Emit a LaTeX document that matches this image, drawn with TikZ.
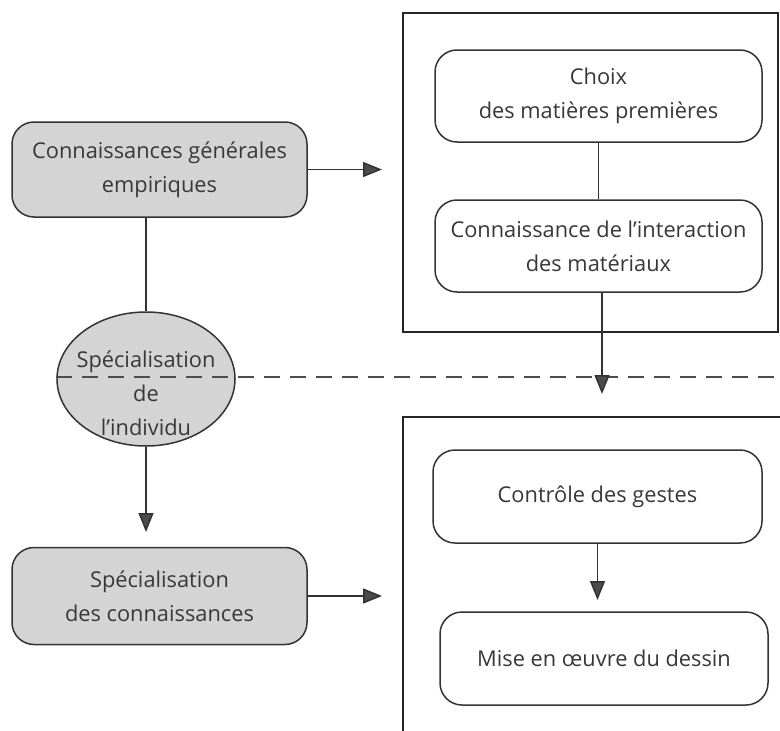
\documentclass[tikz,border=0pt]{standalone}
\usepackage{fontspec}
\setmainfont{Open Sans}
\usetikzlibrary{arrows.meta,shapes.geometric}
\begin{document}
\begin{tikzpicture}[x=1pt,y=-1pt,
  every node/.style={font=\fontsize{21.8}{34}\selectfont, text=black!78, align=center, inner sep=0pt},
  graybox/.style={draw=black!80, line width=1.5pt, rounded corners=22pt, fill=black!17, minimum width=295pt, minimum height=95pt},
  whitebox/.style={draw=black!80, line width=1.5pt, rounded corners=22pt, fill=white, minimum width=327pt, minimum height=92pt},
  conn/.style={draw=black!80, line width=1.5pt},
  arr/.style={conn, -{Triangle[length=19pt,width=15pt,fill=black!70]}},
  frame/.style={draw=black!85, line width=1.6pt}
]
\useasboundingbox (0,0) rectangle (780,731);
% frames
\draw[frame] (403,13) rectangle (778,332);
\draw[frame] (403,731) -- (403,417) -- (780,417);
% left column
\node[graybox] (b1) at (159.5,169.5) {Connaissances générales\\empiriques};
\node[ellipse, draw=black!80, line width=1.5pt, fill=black!17, minimum width=178pt, minimum height=134pt] (el) at (146,379) {};
\node (elt) at (146,393) {Spécialisation\\de\\l'individu};
\node[graybox, minimum height=97pt] (b3) at (159.5,596) {Spécialisation\\des connaissances};
% right column
\node[whitebox] (c1) at (598.5,96) {Choix\\des matières premières};
\node[whitebox] (c2) at (598.5,246) {Connaissance de l'interaction\\des matériaux};
\node[whitebox, minimum width=329pt, minimum height=93pt] (c3) at (597.5,496.5) {Contrôle des gestes};
\node[whitebox, minimum width=328pt, minimum height=93pt] (c4) at (604,658.5) {Mise en œuvre du dessin};
% coordinates
\coordinate (t1) at (382,169.5);
\coordinate (t2) at (382,596);
\coordinate (t3) at (602,394);
\coordinate (t4) at (146,532);
\coordinate (t5) at (597.5,600);
\coordinate (dend) at (780,377);
% dashed separation
\draw[black!70, line width=1.5pt, dash pattern=on 16pt off 10pt] (el.west |- dend) -- (dend);
% connectors
\draw[conn] (b1.south -| el.north) -- (el.north);
\draw[arr] (el.south) -- (t4);
\draw[arr] (b1.east) -- (t1);
\draw[arr] (b3.east) -- (t2);
\draw[conn] (c1.south) -- (c2.north);
\draw[arr] (c2.south -| t3) -- (t3);
\draw[arr] (c3.south) -- (t5);
\end{tikzpicture}
\end{document}
